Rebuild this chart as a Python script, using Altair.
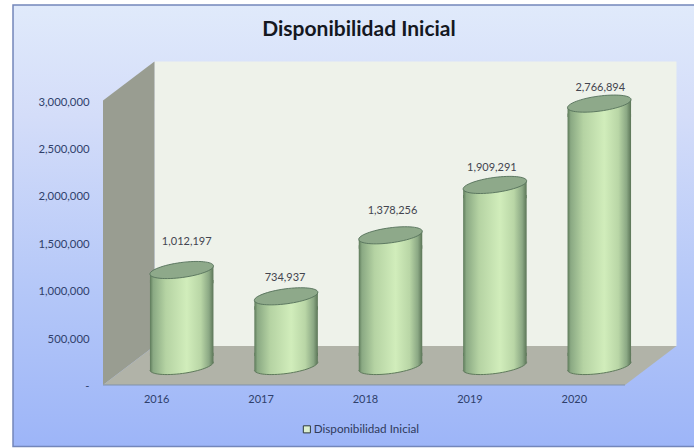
import altair as alt
import pandas as pd

years = [2016, 2017, 2018, 2019, 2020]
values = [1012197, 734937, 1378256, 1909291, 2766894]
y_ticks = [0, 500000, 1000000, 1500000, 2000000, 2500000, 3000000]
series_name = "Disponibilidad Inicial"

# Hand-placed value labels: (horizontal shift, lift above the cylinder top)
label_shift = [5, -1, 2, -3, 1]
label_lift = [28, 18, 24, 17, 16]

FONT = "Lato"
Y_MAX = 3000000
X_MIN, X_MAX = 2015.5, 2020.5
# Depth of the box in data units, cylinders stand halfway into it
DEPTH_X, DEPTH_Y = 0.493, 412000
MID_X, MID_Y = 26.5, -19

x_scale = alt.Scale(domain=[X_MIN, X_MAX], nice=False, zero=False, padding=0)
y_scale = alt.Scale(domain=[0, Y_MAX], nice=False)

x_axis = alt.Axis(
    values=years, format="d", title=None, domain=False, ticks=False, grid=False, zindex=1,
    labelFont=FONT, labelFontSize=11, labelColor="#2f3f6b",
    labelPadding=14, labelBaseline="middle", labelOffset=1,
)
y_axis = alt.Axis(
    values=y_ticks,
    labelExpr="datum.value == 0 ? '-\u00a0\u00a0\u00a0\u00a0\u00a0' : format(datum.value, ',')",
    title=None, domain=False, ticks=False, grid=False, zindex=1,
    labelFont=FONT, labelFontSize=11.3, labelColor="#2f3f6b", labelPadding=14, labelOffset=1.5,
)

df = pd.DataFrame({"year": years, "value": values, "zero": [0] * 5, "serie": [series_name] * 5})

X = alt.X("year:Q", scale=x_scale, axis=x_axis)
Y = alt.Y("value:Q", scale=y_scale, axis=y_axis, stack=None)
Y0 = alt.Y("zero:Q", scale=y_scale, axis=y_axis)
X_F = alt.X("x:Q", scale=x_scale, axis=x_axis)
Y_F = alt.Y("y:Q", scale=y_scale, axis=y_axis)

# Frame of the chart, extending past the box on all sides
frame = alt.Chart(pd.DataFrame({
    "x": [2014.638], "x2": [2021.2], "y": [-648000], "y2": [4008000],
})).mark_rect(
    stroke="#7386ba", strokeWidth=1.5,
    fill=alt.Gradient(gradient="linear", x1=0, y1=0, x2=0, y2=1, stops=[
        alt.GradientStop(color="#e0eafb", offset=0),
        alt.GradientStop(color="#d4ddf9", offset=0.25),
        alt.GradientStop(color="#b4c7f8", offset=0.65),
        alt.GradientStop(color="#9db5f8", offset=1),
    ]),
).encode(x=X_F, x2="x2:Q", y=Y_F, y2="y2:Q")

# Back wall, side wall and floor of the 3D box
wall_back = alt.Chart(pd.DataFrame({
    "x": [X_MIN + DEPTH_X], "x2": [X_MAX + DEPTH_X], "y": [DEPTH_Y], "y2": [Y_MAX + DEPTH_Y],
})).mark_rect(fill="#eef2ea").encode(x=X_F, x2="x2:Q", y=Y_F, y2="y2:Q")
wall_side = alt.Chart(pd.DataFrame({
    "x": [X_MIN, X_MIN + DEPTH_X], "y": [0, DEPTH_Y], "y2": [Y_MAX, Y_MAX + DEPTH_Y],
})).mark_area(fill="#999d91", line=False).encode(
    x=X_F, y=alt.Y("y:Q", scale=y_scale, axis=y_axis, stack=None), y2="y2:Q",
)
floor = alt.Chart(pd.DataFrame({
    "y": [0, DEPTH_Y], "x": [X_MIN, X_MIN + DEPTH_X], "x2": [X_MAX, X_MAX + DEPTH_X],
})).mark_area(fill="#b1b3a8", orient="horizontal").encode(
    y=Y_F, x=alt.X("x:Q", scale=x_scale, axis=x_axis, stack=None), x2="x2:Q",
)
floor_edge = alt.Chart(pd.DataFrame({"x": [X_MIN], "x2": [X_MAX], "y": [0]})).mark_rule(
    color="#8092aa", strokeWidth=1.2
).encode(x=X_F, x2="x2:Q", y=Y_F)

# Cylinders
body_fill = alt.Gradient(gradient="linear", x1=0, y1=0, x2=1, y2=0, stops=[
    alt.GradientStop(color="#5d7a5a", offset=0),
    alt.GradientStop(color="#8aa983", offset=0.05),
    alt.GradientStop(color="#b5d3a3", offset=0.25),
    alt.GradientStop(color="#d1edbb", offset=0.58),
    alt.GradientStop(color="#b9d6a6", offset=0.8),
    alt.GradientStop(color="#8ba884", offset=0.93),
    alt.GradientStop(color="#5b7557", offset=1),
])
WIDTH = 63.5
CAP_SIZE = WIDTH ** 2
ARC = "A1.0085,0.236 -7.66 0 1"
ELLIPSE = f"M-1,0.1344{ARC} 1,-0.1344{ARC} -1,0.1344Z"
TOP_SKIRT = "M-1,0.1344L1,-0.1344L1,0.42L-1,0.42Z"
BOTTOM_SKIRT = f"M-1,-0.42L1,-0.42L1,-0.1344{ARC} -1,0.1344Z"
BOTTOM_EDGE = f"M1,-0.1344{ARC} -1,0.1344"

base = alt.Chart(df).encode(x=X)
bottom_cap = base.mark_point(
    shape=BOTTOM_SKIRT, size=CAP_SIZE, filled=True, fill=body_fill, opacity=1, strokeWidth=0,
    xOffset=MID_X, yOffset=MID_Y,
).encode(y=Y0)
bottom_line = base.mark_point(
    shape=BOTTOM_EDGE, size=CAP_SIZE, filled=False, stroke="#5f7a5c", strokeWidth=1, opacity=1,
    xOffset=MID_X, yOffset=MID_Y,
).encode(y=Y0)
body = base.mark_bar(
    width=WIDTH, fill=body_fill, xOffset=MID_X, yOffset=MID_Y + 10, y2Offset=MID_Y - 10,
).encode(y=Y, y2="zero:Q")
top_skirt = base.mark_point(
    shape=TOP_SKIRT, size=CAP_SIZE, filled=True, fill=body_fill, opacity=1, strokeWidth=0,
    xOffset=MID_X, yOffset=MID_Y,
).encode(y=Y)
top_cap = base.mark_point(
    shape=ELLIPSE, size=CAP_SIZE, filled=True, fill="#8ea98a", stroke="#55705a", strokeWidth=0.9,
    opacity=1, xOffset=MID_X, yOffset=MID_Y,
).encode(y=Y)

# Value labels
labels = []
for i, (shift, lift) in enumerate(zip(label_shift, label_lift)):
    labels.append(
        alt.Chart(df.iloc[[i]]).mark_text(
            font=FONT, fontSize=11, color="#43454f", align="center", baseline="middle",
            dx=MID_X + shift, dy=MID_Y - lift,
        ).encode(x=X, y=Y, text=alt.Text("value:Q", format=","))
    )

# Chart title, centred over the box
title = alt.Chart(pd.DataFrame({"x": [2017.952], "y": [3744000], "t": [series_name]})).mark_text(
    font=FONT, fontSize=21, fontWeight="bold", color="#15181f", align="center", baseline="middle",
).encode(x=X_F, y=Y_F, text="t:N")

# Legend entry
legend_layer = alt.Chart(df).mark_square(opacity=0).encode(
    x=X, y=Y,
    color=alt.Color("serie:N", scale=alt.Scale(range=["#dcefcf"]), legend=alt.Legend(
        orient="none", legendX=198, legendY=323, title=None, symbolType="square",
        symbolSize=50, symbolOpacity=1, symbolFillColor="#dcefcf", symbolStrokeColor="#2e3a3a",
        symbolStrokeWidth=1, labelFont=FONT, labelFontSize=11.7, labelColor="#2f3a5c", labelOffset=1,
    )),
)

chart = alt.layer(
    frame, wall_back, wall_side, floor, floor_edge,
    bottom_cap, bottom_line, body, top_skirt, top_cap, *labels, title, legend_layer,
).properties(
    width=522, height=284.5,
    padding={"left": 103, "top": 100.5, "right": 69, "bottom": 63},
    autosize=alt.AutoSizeParams(type="none"),
    background="white",
).configure_view(stroke=None)

chart.save("out.html", embed_options={"renderer": "svg", "actions": False})
